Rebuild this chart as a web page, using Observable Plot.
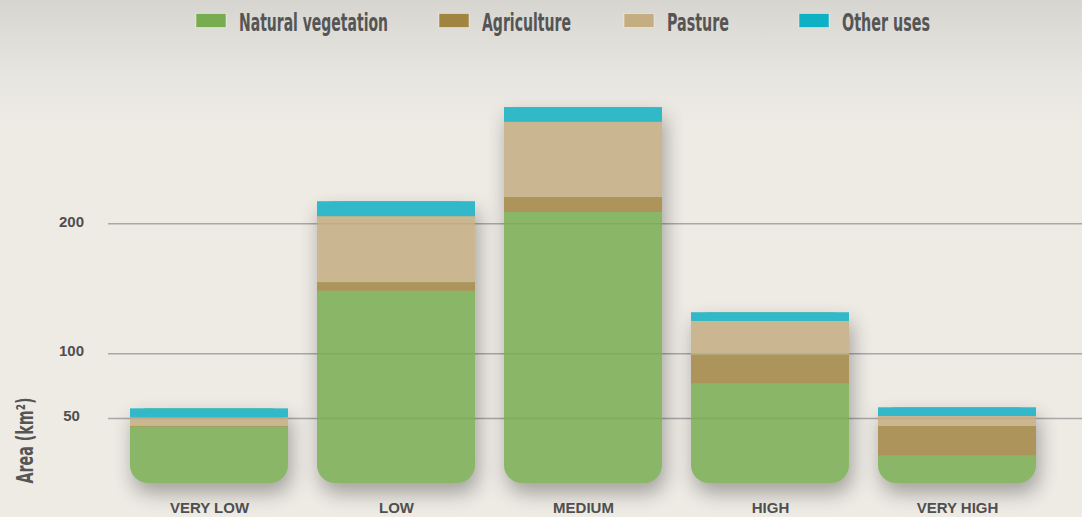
<!DOCTYPE html>
<html>
<head>
<meta charset="utf-8">
<script src="https://cdn.jsdelivr.net/npm/d3@7"></script>
<script src="https://cdn.jsdelivr.net/npm/@observablehq/plot@0.6"></script>
<style>
  html, body { margin: 0; padding: 0; }
  body {
    width: 1082px; height: 517px; overflow: hidden;
    background: linear-gradient(to bottom, #d6d5d0 0px, #dfddd8 35px, #e8e6e0 80px, #eeebe5 130px, #eeebe5 100%);
    font-family: "Liberation Sans", Arial, sans-serif;
  }
  #legend { display: block; }
  #chart svg { display: block; }
</style>
</head>
<body>
<svg id="legend" width="1082" height="50"></svg>
<div id="chart"></div>
<script>
// ---- data ----
const categories = ["VERY LOW", "LOW", "MEDIUM", "HIGH", "VERY HIGH"];
const seriesNames = ["Natural vegetation", "Agriculture", "Pasture", "Other uses"];
const seriesColors = ["#77ad4f", "#a08440", "#c4ad80", "#0eb0c4"];
const naturalVegetation = [43.4, 148, 208.7, 76.8, 21.3];
const agriculture = [0.5, 6.7, 11.5, 22.1, 22.6];
const pasture = [6.7, 50.8, 58, 25.9, 7.7];
const otherUses = [6.9, 11.5, 11.3, 6.7, 6.7];
const yTicks = [50, 100, 200];
const yLabel = "Area (km²)";

// ---- table built from arrays ----
const seriesValues = [naturalVegetation, agriculture, pasture, otherUses];
const rows = [];
const totals = [];
categories.forEach((c, i) => {
  let acc = 0;
  seriesNames.forEach((s, j) => {
    const v = seriesValues[j][i];
    rows.push({category: c, series: s, y1: acc, y2: acc + v});
    acc += v;
  });
  totals.push({category: c, total: acc});
});

// ---- legend ----
const legend = d3.select("#legend");
const legendLayout = [
  {sx: 196, tx: 239, tw: 149},
  {sx: 439, tx: 482, tw: 89},
  {sx: 624, tx: 667, tw: 62},
  {sx: 799, tx: 842, tw: 88}
];
seriesNames.forEach((s, j) => {
  const L = legendLayout[j];
  legend.append("rect")
    .attr("x", L.sx).attr("y", 13.5).attr("width", 30).attr("height", 14)
    .attr("fill", seriesColors[j]).attr("stroke", "rgba(255,255,255,0.45)").attr("stroke-width", 1);
  legend.append("text")
    .attr("x", L.tx).attr("y", 31)
    .attr("font-family", "'Liberation Sans Narrow', 'DejaVu Sans Condensed', 'Roboto', sans-serif")
    .attr("font-size", 25)
    .attr("font-weight", 600)
    .attr("fill", "#555")
    .attr("textLength", L.tw)
    .attr("lengthAdjust", "spacingAndGlyphs")
    .text(s);
});

// ---- chart ----
const H = 467;
const base = 433;      // bar baseline in SVG px
const pxPerUnit = 1.2986;
const yMax = 330;

const chart = Plot.plot({
  width: 1082,
  height: H,
  marginLeft: 108,
  marginRight: 0,
  marginTop: 0,
  marginBottom: H - base,
  style: {background: "transparent", fontFamily: "'Liberation Sans', Arial, sans-serif"},
  x: {domain: categories, range: [115.5, 1050.5], paddingInner: 0.155, paddingOuter: 0.0775},
  y: {domain: [0, yMax], range: [base, base - yMax * pxPerUnit]},
  color: {domain: seriesNames, range: seriesColors},
  marks: [
    Plot.gridY(yTicks, {stroke: "#a8a8a8", strokeOpacity: 1, strokeWidth: 1.5}),
    Plot.barY(totals, {x: "category", y: "total", fill: seriesColors[0], rx: 18, inset: 0}),
    Plot.barY(rows.filter(d => d.series !== seriesNames[0]), {x: "category", y1: "y1", y2: "y2", fill: "series", inset: 0}),
    Plot.axisX({tickSize: 0, tickPadding: 19, fontSize: 15, fontWeight: "bold", fill: "#4f4f4f", label: null}),
    Plot.axisY({ticks: yTicks, tickSize: 0, tickPadding: 37, textAnchor: "middle", dy: -2, fontSize: 15, fontWeight: "bold", fill: "#4f4f4f", label: null}),
    Plot.text([yLabel], {text: d => d, frameAnchor: "bottom-left", rotate: -90, textAnchor: "middle",
      dx: -76, dy: -43, fontSize: 23, fontWeight: 600, fill: "#555",
      fontFamily: "'Liberation Sans Narrow', 'DejaVu Sans Condensed', 'Roboto', sans-serif"})
  ]
});

// group the bar layers so opacity / shadow apply to each bar as a whole
const barGroups = chart.querySelectorAll('g[aria-label="bar"]');
if (barGroups.length) {
  const wrap = document.createElementNS("http://www.w3.org/2000/svg", "g");
  wrap.setAttribute("style", "opacity:0.84; filter: drop-shadow(3px 10px 10px rgba(0,0,0,0.38));");
  barGroups[0].parentNode.insertBefore(wrap, barGroups[0]);
  barGroups.forEach(g => wrap.appendChild(g));
}
// fit the rotated axis label to its length
const lab = chart.querySelector('g[aria-label="text"] text');
if (lab) { lab.setAttribute("textLength", 86); lab.setAttribute("lengthAdjust", "spacingAndGlyphs"); }

document.getElementById("chart").appendChild(chart);
</script>
</body>
</html>
